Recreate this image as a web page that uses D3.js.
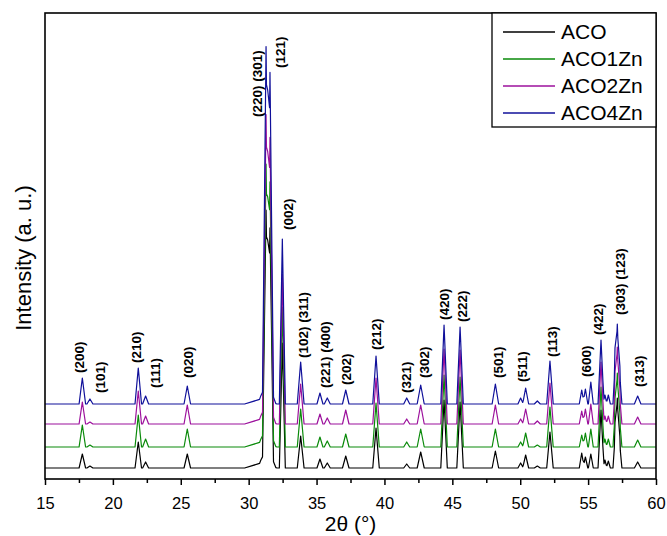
<!DOCTYPE html>
<html>
<head>
<meta charset="utf-8">
<script src="https://cdn.jsdelivr.net/npm/d3@7"></script>
<style>
  body { margin: 0; background: #fff; }
  text { font-family: "Liberation Sans", Arial, sans-serif; fill: #000; }
</style>
</head>
<body>
<div id="chart"></div>
<script>
// XRD patterns, values
const seriesNames = ['ACO', 'ACO1Zn', 'ACO2Zn', 'ACO4Zn'];
const seriesOffsets = [11, 32, 55, 75];   // vertical stacking (a.u.)

// peak list: 2theta (deg) and half base width (deg)
const peakTheta = [17.75, 18.31, 21.87, 22.41, 25.48, 30.9, 31.4, 31.28, 31.57, 32.48,
  33.83, 35.25, 35.79, 37.15, 39.38, 41.64, 42.67, 44.39, 45.57, 48.17,
  50.03, 50.4, 51.26, 52.19, 54.53, 54.8, 55.2, 55.95, 56.24, 56.49,
  56.98, 57.15, 57.34, 58.65];
const peakHalfWidth = [0.24, 0.22, 0.24, 0.22, 0.24, 1.2, 0.6, 0.26, 0.26, 0.22,
  0.25, 0.22, 0.22, 0.24, 0.24, 0.22, 0.26, 0.24, 0.24, 0.24,
  0.2, 0.22, 0.22, 0.24, 0.18, 0.18, 0.18, 0.22, 0.15, 0.15,
  0.15, 0.22, 0.15, 0.24];

// peak heights above each pattern's own baseline
const acoPeaks = [14, 2, 26, 6, 14, 5, 18, 240, 225, 125,
  32, 9, 5, 12, 40, 4, 16, 68, 66, 17,
  5, 13, 2, 36, 15, 11, 14, 58, 8, 7,
  30, 70, 22, 6];
const aco1ZnPeaks = [22, 2, 32, 8, 18, 5, 18, 265, 250, 140,
  38, 10, 6, 13, 44, 5, 18, 72, 70, 18,
  5, 14, 2, 40, 12, 14, 18, 60, 8, 8,
  32, 74, 24, 7];
const aco2ZnPeaks = [22, 2, 33, 8, 19, 5, 20, 290, 270, 150,
  40, 10, 6, 14, 46, 5, 19, 75, 74, 19,
  5, 15, 3, 41, 13, 15, 20, 62, 8, 8,
  35, 77, 25, 7];
const aco4ZnPeaks = [26, 5, 36, 8, 18, 5, 20, 338, 315, 165,
  42, 11, 6, 14, 48, 6, 19, 79, 77, 20,
  6, 16, 3, 43, 14, 15, 22, 64, 9, 9,
  38, 80, 27, 8];

// Miller index annotations: text, 2theta of the column, level of text start (a.u.)
const hklText = ['(200)', '(101)', '(210)', '(111)', '(020)', '(220) (301)', '(121)', '(002)',
  '(102) (311)', '(221) (400)', '(202)', '(212)', '(321)', '(302)', '(420)', '(222)',
  '(501)', '(511)', '(113)', '(600)', '(422)', '(303) (123)', '(313)'];
const hklTheta = [17.5, 19.05, 21.7, 23.15, 25.55, 30.61, 32.31, 32.92,
  34.02, 35.62, 37.22, 39.38, 41.59, 42.91, 44.39, 45.76,
  48.38, 50.18, 52.39, 54.84, 55.75, 57.4, 58.77];
const hklLevel = [106, 86, 116, 91, 101, 362, 411, 249,
  121, 91, 94, 129, 86, 101, 159, 157,
  101, 97, 122, 102, 144, 164, 92];

const xTicks = [15, 20, 25, 30, 35, 40, 45, 50, 55, 60];
const xMinorTicks = [17.5, 22.5, 27.5, 32.5, 37.5, 42.5, 47.5, 52.5, 57.5];

const width = 667, height = 536;
const margin = {top: 13, right: 11, bottom: 57, left: 45};
const colors = ['#000000', '#0a8a0a', '#9c109c', '#10109a'];

const svg = d3.select('#chart').append('svg')
  .attr('width', width)
  .attr('height', height);

const xScale = d3.scaleLinear()
  .domain([15, 60])
  .range([margin.left, width - margin.right]);

const yScale = d3.scaleLinear()
  .domain([0, 466])
  .range([height - margin.bottom, margin.top]);

svg.append('clipPath').attr('id', 'plot-clip')
  .append('rect')
  .attr('x', margin.left).attr('y', margin.top)
  .attr('width', width - margin.left - margin.right)
  .attr('height', height - margin.top - margin.bottom);

// build the pattern from the peak list (piecewise linear through feet and apexes)
function pattern(heights, offset) {
  const xs = [15, 60];
  peakTheta.forEach((p, i) => xs.push(p - peakHalfWidth[i], p, p + peakHalfWidth[i]));
  const grid = Array.from(new Set(xs)).sort((a, b) => a - b);
  return grid.map(x => [x, offset + d3.sum(peakTheta, (p, i) =>
    heights[i] * Math.max(0, 1 - Math.abs(x - p) / peakHalfWidth[i]))]);
}

const allPeaks = [acoPeaks, aco1ZnPeaks, aco2ZnPeaks, aco4ZnPeaks];
const line = d3.line()
  .x(d => xScale(d[0]))
  .y(d => yScale(d[1]));

const plot = svg.append('g').attr('clip-path', 'url(#plot-clip)');
allPeaks.forEach((h, i) => {
  plot.append('path')
    .datum(pattern(h, seriesOffsets[i]))
    .attr('d', line)
    .attr('fill', 'none')
    .attr('stroke', colors[i])
    .attr('stroke-width', 1.2)
    .attr('stroke-linejoin', 'round');
});

// hkl labels
svg.append('g').selectAll('text')
  .data(hklText)
  .enter().append('text')
  .attr('transform', (d, i) => `translate(${xScale(hklTheta[i])},${yScale(hklLevel[i])}) rotate(-90)`)
  .attr('dy', '0.35em')
  .style('font-size', '13.5px')
  .style('font-weight', 'bold')
  .text(d => d);

// x axis
const xAxis = d3.axisBottom(xScale)
  .tickValues(xTicks)
  .tickSize(6)
  .tickPadding(12)
  .tickFormat(d3.format('d'));

const gx = svg.append('g')
  .attr('transform', `translate(0, ${height - margin.bottom})`)
  .call(xAxis);
gx.select('.domain').remove();
gx.selectAll('line').attr('stroke', '#000').attr('stroke-width', 1.5);
gx.selectAll('text').style('font-size', '16.5px').style('font-family', '"Liberation Sans", Arial, sans-serif');

const gxMinor = svg.append('g')
  .attr('transform', `translate(0, ${height - margin.bottom})`)
  .call(d3.axisBottom(xScale).tickValues(xMinorTicks).tickSize(4).tickFormat(''));
gxMinor.select('.domain').remove();
gxMinor.selectAll('line').attr('stroke', '#000').attr('stroke-width', 1.5);

// frame
svg.append('rect')
  .attr('x', margin.left).attr('y', margin.top)
  .attr('width', width - margin.left - margin.right)
  .attr('height', height - margin.top - margin.bottom)
  .attr('fill', 'none')
  .attr('stroke', '#000')
  .attr('stroke-width', 1.6);

// axis titles
svg.append('text')
  .attr('x', (margin.left + width - margin.right) / 2)
  .attr('y', 531)
  .attr('text-anchor', 'middle')
  .style('font-size', '21px')
  .text('2θ (°)');

svg.append('text')
  .attr('transform', `translate(23, 258) rotate(-90)`)
  .attr('text-anchor', 'middle')
  .attr('dy', '0.35em')
  .style('font-size', '22px')
  .text('Intensity (a. u.)');

// legend
const legend = svg.append('g');
legend.append('rect')
  .attr('x', 492).attr('y', margin.top)
  .attr('width', width - margin.right - 492)
  .attr('height', 114)
  .attr('fill', '#fff')
  .attr('stroke', '#000')
  .attr('stroke-width', 1.3);

const rows = legend.selectAll('g.row')
  .data(seriesNames)
  .enter().append('g')
  .attr('class', 'row')
  .attr('transform', (d, i) => `translate(503, ${32 + i * 27})`);
rows.append('line')
  .attr('x1', 0).attr('x2', 52)
  .attr('stroke', (d, i) => colors[i])
  .attr('stroke-width', 1.3);
rows.append('text')
  .attr('x', 58)
  .attr('dy', '0.35em')
  .style('font-size', '21px')
  .text(d => d);
</script>
</body>
</html>
